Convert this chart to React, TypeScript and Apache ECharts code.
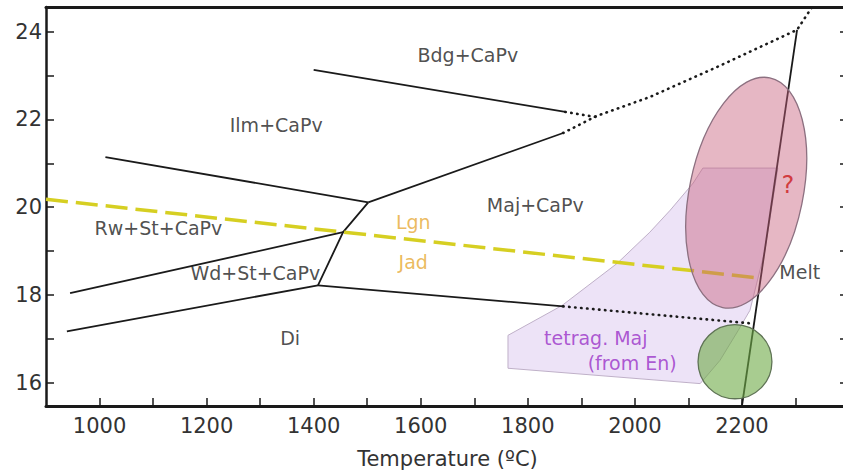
import React, { useEffect, useRef } from "react";
import * as echarts from "echarts";

// ---- axis ticks ----
const xTickValues = [1000, 1100, 1200, 1300, 1400, 1500, 1600, 1700, 1800, 1900, 2000, 2100, 2200, 2300];
const xLabelValues = [1000, 1200, 1400, 1600, 1800, 2000, 2200];
const yTickValues = [16, 17, 18, 19, 20, 21, 22, 23, 24];
const yLabelValues = [16, 18, 20, 22, 24];

// ---- phase boundaries [T (°C), P (GPa)] ----
const bdgIlm = [[1400, 23.13], [1870, 22.17]];
const bdgIlmDotted = [[1870, 22.17], [1929, 22.05]];
const ilmRw = [[1011, 21.14], [1502, 20.11]];
const ilmMaj = [[1502, 20.11], [1866, 21.69]];
const upperDotted = [[1866, 21.69], [1929, 22.08], [2028, 22.51], [2153, 23.19], [2303, 24.04], [2331, 24.56]];
const rwWdMaj = [[1502, 20.11], [1455, 19.43], [1408, 18.22]];
const rwWd = [[945, 18.04], [1455, 19.43]];
const wdDi = [[939, 17.17], [1408, 18.22]];
const diMaj = [[1408, 18.22], [1866, 17.74]];
const diMajDotted = [[1866, 17.74], [2219, 17.35]];
const melt = [[2303, 24.04], [2200, 15.47]];
const lgnJad = [[900, 20.18], [2236, 18.38]];

// ---- regions ----
const tetragMaj = [
  [1763, 17.08], [1864, 17.76], [1967, 18.72], [2028, 19.43], [2066, 19.93], [2109, 20.55], [2127, 20.89],
  [2267, 20.89], [2243, 19.02], [2215, 17.65], [2193, 17.19], [2159, 16.51], [2122, 15.98], [1763, 16.33],
];
// [centre T, centre P, half-width T, half-height P, clockwise tilt deg]
const pinkEllipse = [2208, 20.33, 106, 2.67, 11.6];
const greenCircle = [2187, 16.48, 69, 0.845, 0];

// ---- labels [T, P, text] ----
const blackLabels: [number, number, string][] = [
  [1688, 23.47, "Bdg+CaPv"],
  [1330, 21.87, "Ilm+CaPv"],
  [1814, 20.05, "Maj+CaPv"],
  [1110, 19.52, "Rw+St+CaPv"],
  [1291, 18.5, "Wd+St+CaPv"],
  [1356, 17.01, "Di"],
  [2308, 18.52, "Melt"],
];
const goldLabels: [number, number, string][] = [
  [1586, 19.66, "Lgn"],
  [1586, 18.75, "Jad"],
];
const purpleLabels: [number, number, string][] = [
  [1927, 17.03, "tetrag. Maj"],
  [1995, 16.46, "(from En)"],
];
const redLabels: [number, number, string][] = [[2286, 20.5, "?"]];

const FONT = "DejaVu Sans";

function lineSeries(data: number[][], dotted = false, z = 3) {
  return {
    type: "line",
    data,
    symbol: "none",
    silent: true,
    z,
    lineStyle: dotted
      ? { color: "#1a1a1a", width: 2.6, type: [0.5, 5.5], cap: "round" }
      : { color: "#1a1a1a", width: 1.8 },
  };
}

function shapeSeries(spec: number[], fill: string, stroke: string, z: number) {
  return {
    type: "custom",
    z,
    silent: true,
    data: [[spec[0], spec[1]]],
    encode: { x: 0, y: 1 },
    renderItem: (_p: any, api: any) => {
      const c = api.coord([spec[0], spec[1]]);
      const s = api.size([spec[2], spec[3]]);
      return {
        type: "group",
        x: c[0],
        y: c[1],
        rotation: (-spec[4] * Math.PI) / 180,
        children: [
          {
            type: "ellipse",
            shape: { cx: 0, cy: 0, rx: s[0], ry: s[1] },
            style: { fill, stroke, lineWidth: 1.3 },
          },
        ],
      };
    },
  };
}

function labelSeries(items: [number, number, string][], color: string, size: number) {
  return {
    type: "scatter",
    z: 10,
    silent: true,
    symbolSize: 1,
    itemStyle: { color: "rgba(0,0,0,0)" },
    data: items.map((d) => ({ value: [d[0], d[1]], name: d[2] })),
    label: {
      show: true,
      position: "inside",
      formatter: (p: any) => p.name,
      color,
      fontSize: size,
      fontFamily: FONT,
    },
  };
}

export default function App() {
  const ref = useRef<HTMLDivElement>(null);
  useEffect(() => {
    if (!ref.current) return;
    const chart = echarts.init(ref.current, undefined, { renderer: "svg" });
    const axisColor = "#1a1a1a";
    chart.setOption({
      animation: false,
      backgroundColor: "#ffffff",
      grid: { left: 46, top: 7, width: 803, height: 399 },
      xAxis: [
        {
          type: "value",
          min: 900,
          max: 2400,
          position: "bottom",
          name: "Temperature (ºC)",
          nameLocation: "middle",
          nameGap: 42,
          nameTextStyle: { fontSize: 21, color: "#333", fontFamily: FONT },
          axisLine: { show: true, onZero: false, lineStyle: { color: axisColor, width: 3 } },
          axisTick: { show: true, inside: true, length: 8, customValues: xTickValues, lineStyle: { color: axisColor, width: 1.5 } },
          axisLabel: {
            customValues: xLabelValues,
            formatter: (v: number) => String(v),
            fontSize: 21,
            color: "#333",
            fontFamily: FONT,
            margin: 9,
          },
          splitLine: { show: false },
        },
        {
          type: "value",
          min: 900,
          max: 2400,
          position: "top",
          axisLine: { show: true, onZero: false, lineStyle: { color: axisColor, width: 3 } },
          axisTick: { show: false },
          axisLabel: { show: false },
          splitLine: { show: false },
        },
      ],
      yAxis: [
        {
          type: "value",
          min: 15.47,
          max: 24.56,
          position: "left",
          axisLine: { show: true, onZero: false, lineStyle: { color: axisColor, width: 2.5 } },
          axisTick: { show: true, inside: true, length: 8, customValues: yTickValues, lineStyle: { color: axisColor, width: 1.5 } },
          axisLabel: {
            customValues: yLabelValues,
            formatter: (v: number) => String(v),
            fontSize: 21,
            color: "#333",
            fontFamily: FONT,
            margin: 4,
          },
          splitLine: { show: false },
        },
        {
          type: "value",
          min: 15.47,
          max: 24.56,
          position: "right",
          axisLine: { show: true, onZero: false, lineStyle: { color: axisColor, width: 2.5 } },
          axisTick: { show: true, inside: true, length: 9, customValues: yTickValues, lineStyle: { color: axisColor, width: 1.5 } },
          axisLabel: { show: false },
          splitLine: { show: false },
        },
      ],
      series: [
        {
          type: "custom",
          z: 1,
          silent: true,
          data: tetragMaj,
          encode: { x: 0, y: 1 },
          renderItem: (p: any, api: any) => {
            if (p.dataIndex !== 0) return null;
            return {
              type: "polygon",
              shape: { points: tetragMaj.map((pt) => api.coord(pt)) },
              style: { fill: "rgba(190,150,225,0.27)", stroke: "#bfb0c8", lineWidth: 1 },
            };
          },
        },
        lineSeries(bdgIlm),
        lineSeries(bdgIlmDotted, true),
        lineSeries(ilmRw),
        lineSeries(ilmMaj),
        lineSeries(upperDotted, true),
        lineSeries(rwWdMaj),
        lineSeries(rwWd),
        lineSeries(wdDi),
        lineSeries(diMaj),
        lineSeries(diMajDotted, true),
        lineSeries(melt),
        {
          type: "line",
          data: lgnJad,
          symbol: "none",
          silent: true,
          z: 3,
          lineStyle: { color: "#d6cf22", width: 3.5, type: [22, 8] },
        },
        shapeSeries(pinkEllipse, "rgba(200,95,125,0.45)", "#8c7080", 5),
        shapeSeries(greenCircle, "rgba(110,170,70,0.6)", "#5f7355", 5),
        labelSeries(blackLabels, "#222", 19),
        labelSeries(goldLabels, "#e6a935", 19),
        labelSeries(purpleLabels, "#9a32c8", 19),
        labelSeries(redLabels, "#cc1a1a", 24),
      ],
    });
    return () => chart.dispose();
  }, []);
  return (
    <div style={{ position: "fixed", left: 0, top: 0, width: 843, height: 475, overflow: "hidden", background: "#fff" }}>
      <div ref={ref} style={{ width: 860, height: 475 }} />
    </div>
  );
}
